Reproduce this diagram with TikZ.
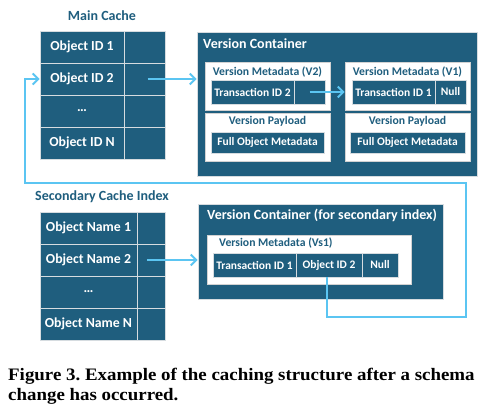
\documentclass[tikz,border=0pt]{standalone}
\usepackage{fontspec}
\setmainfont{Carlito}
\newfontfamily\capfont[FakeStretch=1.08]{Liberation Serif}
\usetikzlibrary{arrows.meta,calc}
\definecolor{dblue}{HTML}{1F5E7E}
\definecolor{lblue}{HTML}{5BC5F2}
\definecolor{lborder}{HTML}{D6DCE0}
\frenchspacing
\begin{document}
\begin{tikzpicture}[x=1pt,y=-1pt,
  cell/.style={draw=lborder, line width=0.8pt, fill=dblue, text=white, font=\fontsize{13.8}{15}\selectfont\bfseries, inner sep=0pt, minimum height=32pt},
  icell/.style={draw=lborder, line width=0.6pt, fill=dblue, text=white, font=\fontsize{11.5}{13}\selectfont\bfseries, inner sep=0pt, minimum height=24pt},
  cont/.style={draw=lborder, line width=0.6pt, fill=dblue, inner sep=0pt},
  ibox/.style={draw=gray!35, line width=0.6pt, fill=white, inner sep=0pt},
  title/.style={text=dblue, font=\fontsize{14}{16}\selectfont\bfseries, inner sep=0pt},
  ctitle/.style={text=white, font=\fontsize{14}{16}\selectfont\bfseries, inner sep=0pt},
  ititle/.style={text=dblue, font=\fontsize{11.7}{13}\selectfont\bfseries, inner sep=0pt},
  link/.style={draw=lblue, line width=2pt, -{Straight Barb[length=5.5pt,width=11pt,line width=2pt]}},
  capst/.style={font=\capfont\bfseries\fontsize{17.5}{20}\selectfont, inner sep=0pt}]
\useasboundingbox[fill=white] (0,0) rectangle (488,408);
% Main cache
\node[title] (mct) at (102,16) {Main Cache};
\node[cell, minimum width=84pt] (m1) at (82,47) {Object ID 1};
\node[cell, minimum width=41pt] (m1r) at (144.5,47) {};
\node[cell, minimum width=84pt] (m2) at (82,79) {Object ID 2};
\node[cell, minimum width=41pt] (m2r) at (144.5,79) {};
\node[cell, minimum width=84pt] (m3) at (82,111) {…};
\node[cell, minimum width=41pt] (m3r) at (144.5,111) {};
\node[cell, minimum width=84pt] (m4) at (82,143) {Object ID N};
\node[cell, minimum width=41pt] (m4r) at (144.5,143) {};
% Secondary cache index
\node[title] (sct) at (102,197) {Secondary Cache Index};
\node[cell, minimum width=97pt] (s1) at (88.5,228) {Object Name 1};
\node[cell, minimum width=28pt] (s1r) at (151,228) {};
\node[cell, minimum width=97pt] (s2) at (88.5,260) {Object Name 2};
\node[cell, minimum width=28pt] (s2r) at (151,260) {};
\node[cell, minimum width=97pt] (s3) at (88.5,292) {…};
\node[cell, minimum width=28pt] (s3r) at (151,292) {};
\node[cell, minimum width=97pt] (s4) at (88.5,324) {Object Name N};
\node[cell, minimum width=28pt] (s4r) at (151,324) {};
% Version container 1
\node[cont, minimum width=280pt, minimum height=144pt] (vc1) at (337,104) {};
\node[ctitle, anchor=west] (vc1t) at (203,44) {Version Container};
\node[ibox, minimum width=125pt, minimum height=48pt] (mv2) at (267.5,86) {};
\node[ititle] (mv2t) at (267.5,72) {Version Metadata (V2)};
\node[icell, minimum width=83pt] (t2) at (252.5,92) {Transaction ID 2};
\node[icell, minimum width=31pt] (t2r) at (309.5,92) {};
\node[ibox, minimum width=125pt, minimum height=48pt] (pv2) at (267.5,137) {};
\node[ititle] (pv2t) at (267.5,121) {Version Payload};
\node[icell, minimum width=113pt, minimum height=21pt] (f2) at (267.5,142.5) {Full Object Metadata};
\node[ibox, minimum width=125pt, minimum height=48pt] (mv1) at (407.5,86) {};
\node[ititle] (mv1t) at (407.5,72) {Version Metadata (V1)};
\node[icell, minimum width=83pt] (t1) at (393.5,92) {Transaction ID 1};
\node[icell, minimum width=31pt] (n1) at (450.5,92) {Null};
\node[ibox, minimum width=125pt, minimum height=48pt] (pv1) at (407.5,137) {};
\node[ititle] (pv1t) at (407.5,121) {Version Payload};
\node[icell, minimum width=115pt, minimum height=21pt] (f1) at (407.5,142.5) {Full Object Metadata};
% Version container 2
\node[cont, minimum width=245pt, minimum height=95pt] (vc2) at (320.5,251.5) {};
\node[ctitle, anchor=west] (vc2t) at (207,215) {Version Container (for secondary index)};
\node[ibox, minimum width=204pt, minimum height=49pt] (ms1) at (309,259.5) {};
\node[ititle, anchor=west] (ms1t) at (219,243) {Version Metadata (Vs1)};
\node[icell, minimum width=83pt] (ts1) at (254.5,265) {Transaction ID 1};
\node[icell, minimum width=66pt] (os1) at (329,265) {Object ID 2};
\node[icell, minimum width=36pt] (ns1) at (380,265) {Null};
% connectors
\coordinate (c1) at (466,317);
\coordinate (c2) at (466,183);
\coordinate (c3) at (25,183);
\draw[link] ($(m2r.center)+(3,0)$) -- (vc1.west |- m2r.center);
\draw[link] (t2r.center) -- (mv1.west |- t2r.center);
\draw[link] ($(s2r.center)+(-4,0)$) -- (vc2.west |- s2r.center);
\draw[link] ($(os1.south)+(-2,0)$) |- (c1) -- (c2) -- (c3) |- (m2.west);
% caption
\node[capst, anchor=base west] (cap1) at (8,380) {Figure 3. Example of the caching structure after a schema};
\node[capst, anchor=base west] (cap2) at (8,400) {change has occurred.};
\end{tikzpicture}
\end{document}
